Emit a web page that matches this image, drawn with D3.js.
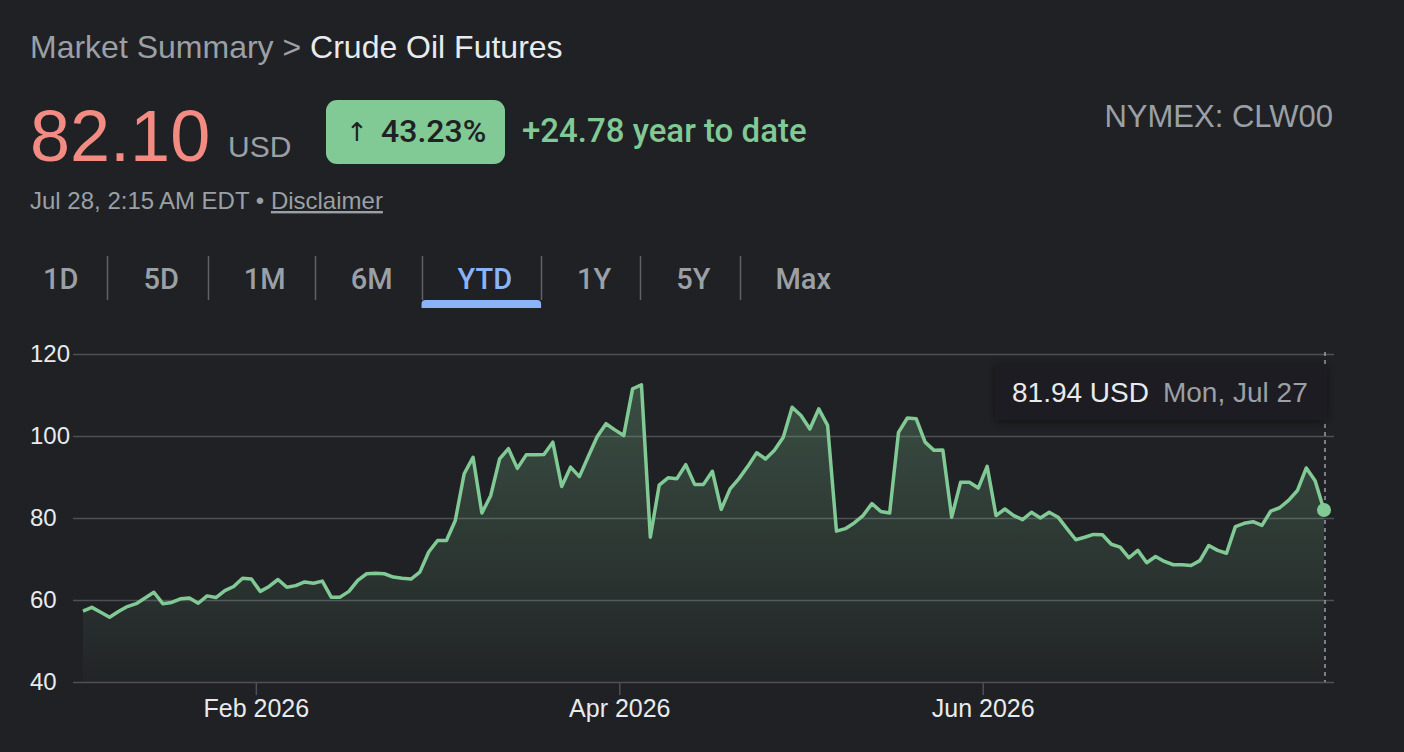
<!DOCTYPE html>
<html>
<head>
<meta charset="utf-8">
<script src="https://cdn.jsdelivr.net/npm/d3@7"></script>
<style>
  body { margin: 0; background: #202124; }
  svg { display: block; font-family: "Liberation Sans", Arial, Helvetica, sans-serif; }
  .med { font-family: Roboto, "Liberation Sans", sans-serif; font-weight: 500; }
</style>
</head>
<body>
<svg id="chart" width="1404" height="752"></svg>
<script>
// daily settle prices, Jan 2 -> Jul 27 (trading days only)
var prices = [
  57.3, 58.2, 57.0, 55.8, 57.2, 58.4, 59.1, 60.5, 61.9, 59.1,
  59.4, 60.3, 60.5, 59.2, 61.0, 60.6, 62.3, 63.3, 65.3, 65.1,
  62.1, 63.3, 65.0, 63.1, 63.5, 64.4, 64.1, 64.6, 60.7, 60.7,
  62.1, 64.8, 66.4, 66.5, 66.4, 65.6, 65.3, 65.1, 66.8, 71.7,
  74.5, 74.5, 79.4, 90.8, 94.8, 81.2, 85.5, 94.4, 96.9, 92.1,
  95.4, 95.4, 95.5, 98.5, 87.7, 92.4, 90.1, 95.0, 99.8, 103.0,
  101.5, 100.1, 111.5, 112.5, 75.3, 88.0, 89.8, 89.6, 93.0, 88.2,
  88.2, 91.4, 82.1, 87.1, 89.6, 92.6, 95.9, 94.4, 96.5, 99.7,
  107.0, 105.0, 101.7, 106.6, 102.6, 76.8, 77.4, 78.8, 80.6, 83.5,
  81.6, 81.2, 100.9, 104.4, 104.2, 98.5, 96.5, 96.6, 80.2, 88.7,
  88.7, 87.3, 92.6, 80.6, 82.2, 80.6, 79.6, 81.4, 80.0, 81.4,
  80.2, 77.4, 74.7, 75.3, 76.0, 75.9, 73.6, 72.9, 70.3, 72.1,
  69.1, 70.6, 69.4, 68.6, 68.6, 68.4, 69.6, 73.3, 72.1, 71.4,
  77.9, 78.7, 79.1, 78.2, 81.7, 82.5, 84.3, 86.7, 92.2, 89.1,
  81.94
];
var startDate = "2026-01-02";
var holidays = ["2026-01-19", "2026-02-16", "2026-04-03", "2026-05-25", "2026-06-19", "2026-07-03"];

var yTicks = [40, 60, 80, 100, 120];
var tickMonths = [1, 3, 5];
var tickLabels = ["Feb 2026", "Apr 2026", "Jun 2026"];

var tabs = ["1D", "5D", "1M", "6M", "YTD", "1Y", "5Y", "Max"];
var activeTab = "YTD";

var lastPrice = "82.10";
var pctChange = "43.23%";
var ytdChange = "+24.78 year to date";
var tipPrice = "81.94 USD";
var tipDate = "Mon, Jul 27";

// trading calendar
var fmt = d3.timeFormat("%Y-%m-%d");
var dates = [];
var d = d3.timeParse("%Y-%m-%d")(startDate);
while (dates.length < prices.length) {
  var wd = d.getDay();
  if (wd !== 0 && wd !== 6 && holidays.indexOf(fmt(d)) < 0) dates.push(new Date(d));
  d = d3.timeDay.offset(d, 1);
}
var data = prices.map(function(p, i) { return {i: i, date: dates[i], price: p}; });

var svg = d3.select("#chart");

// ---- header ----
var title = svg.append("text").attr("x", 30).attr("y", 58).style("font-size", "32px");
title.append("tspan").attr("fill", "#9aa0a6").text("Market Summary > ");
title.append("tspan").attr("fill", "#e8eaed").text("Crude Oil Futures");

svg.append("text").attr("x", 30).attr("y", 161)
  .attr("fill", "#f28b82").style("font-size", "72px").text(lastPrice);
svg.append("text").attr("x", 228).attr("y", 157)
  .attr("fill", "#9aa0a6").style("font-size", "30px").text("USD");

svg.append("rect").attr("x", 326).attr("y", 100).attr("width", 179).attr("height", 64)
  .attr("rx", 11).attr("fill", "#81c995");
svg.append("text").attr("x", 346).attr("y", 141)
  .attr("fill", "#202124").style("font-size", "26px").style("font-family", "DejaVu Sans")
  .text("\u2191");
svg.append("text").attr("class", "med").attr("x", 381).attr("y", 142)
  .attr("fill", "#202124").style("font-size", "32px").text(pctChange);
svg.append("text").attr("class", "med").attr("x", 522).attr("y", 142)
  .attr("fill", "#81c995").style("font-size", "33px")
  .text(ytdChange);

svg.append("text").attr("x", 1333).attr("y", 127).attr("text-anchor", "end")
  .attr("fill", "#9aa0a6").style("font-size", "31px").text("NYMEX: CLW00");

var sub = svg.append("text").attr("x", 30).attr("y", 209)
  .attr("fill", "#9aa0a6").style("font-size", "24px");
sub.append("tspan").text("Jul 28, 2:15\u2009AM EDT \u2022 ");
sub.append("tspan").attr("text-decoration", "underline").text("Disclaimer");

// ---- range tabs ----
var padL = 36, padR = 29, tabLeft = 7;
tabs.forEach(function(t, i) {
  var txt = svg.append("text").attr("class", "med").attr("x", tabLeft + padL).attr("y", 289)
    .attr("fill", t === activeTab ? "#8ab4f8" : "#9aa0a6")
    .style("font-size", "29px").text(t);
  var w = txt.node().getComputedTextLength();
  var tabRight = tabLeft + padL + w + padR;
  if (t === activeTab) {
    svg.append("path")
      .attr("d", "M" + tabLeft + ",308 v-4 a4,4 0 0 1 4,-4 h" + (tabRight - tabLeft - 8) + " a4,4 0 0 1 4,4 v4 z")
      .attr("fill", "#8ab4f8");
  }
  if (i < tabs.length - 1) {
    var sx = Math.round(tabRight) + 0.5;
    svg.append("line").attr("x1", sx).attr("x2", sx).attr("y1", 256).attr("y2", 300)
      .attr("stroke", "#5f6368").attr("stroke-width", 1.5);
  }
  tabLeft = tabRight;
});

// ---- chart ----
var x = d3.scaleLinear().domain([0, prices.length - 1]).range([83, 1324]);
var y = d3.scaleLinear().domain([40, 120]).range([682, 354]);

var yAxis = d3.axisLeft(y).tickValues(yTicks).tickSize(-1261).tickPadding(0);
var gy = svg.append("g").attr("transform", "translate(73,0)").call(yAxis);
gy.select(".domain").remove();
gy.selectAll(".tick line").attr("stroke", "#4d5055").attr("stroke-width", 1.5);
gy.selectAll(".tick text").attr("x", -43).attr("text-anchor", "start")
  .attr("fill", "#e8eaed").style("font-size", "24px").style("font-family", "inherit");

// month boundaries in trading-day index space
var tickIdx = tickMonths.map(function(m) {
  var k = data.findIndex(function(p) { return p.date.getMonth() === m; });
  return k - 0.5;
});
var xAxis = d3.axisBottom(x).tickValues(tickIdx)
  .tickFormat(function(v, i) { return tickLabels[i]; })
  .tickSize(13).tickPadding(0);
var gx = svg.append("g").attr("transform", "translate(0,682)").call(xAxis);
gx.select(".domain").remove();
gx.selectAll(".tick line").attr("stroke", "#4d5055").attr("stroke-width", 1.5);
gx.selectAll(".tick text").attr("y", 35).attr("dy", 0).attr("fill", "#e8eaed")
  .style("font-size", "25px").style("font-family", "inherit");

var defs = svg.append("defs");
var grad = defs.append("linearGradient").attr("id", "fillGrad")
  .attr("gradientUnits", "userSpaceOnUse")
  .attr("x1", 0).attr("x2", 0).attr("y1", y(115)).attr("y2", y(40));
grad.append("stop").attr("offset", 0).attr("stop-color", "#81c995").attr("stop-opacity", 0.28);
grad.append("stop").attr("offset", 1).attr("stop-color", "#81c995").attr("stop-opacity", 0.02);

svg.append("path").datum(data)
  .attr("fill", "url(#fillGrad)")
  .attr("d", d3.area().x(function(p) { return x(p.i); }).y0(y(40)).y1(function(p) { return y(p.price); }));

svg.append("path").datum(data)
  .attr("fill", "none").attr("stroke", "#81c995").attr("stroke-width", 3.5)
  .attr("stroke-linejoin", "round")
  .attr("d", d3.line().x(function(p) { return x(p.i); }).y(function(p) { return y(p.price); }));

// hover marker
var last = data[data.length - 1];
svg.append("line").attr("x1", x(last.i) + 1).attr("x2", x(last.i) + 1)
  .attr("y1", 352).attr("y2", 682)
  .attr("stroke", "#9aa0a6").attr("stroke-width", 1.5).attr("stroke-dasharray", "4,4");
svg.append("circle").attr("cx", x(last.i)).attr("cy", y(last.price)).attr("r", 7)
  .attr("fill", "#81c995");

// tooltip
var shadow = defs.append("filter").attr("id", "shadow").attr("x", -0.2).attr("y", -0.4)
  .attr("width", 1.4).attr("height", 1.8);
shadow.append("feDropShadow").attr("dx", 0).attr("dy", 2).attr("stdDeviation", 5)
  .attr("flood-color", "#000").attr("flood-opacity", 0.45);
svg.append("rect").attr("x", 995).attr("y", 364).attr("width", 332).attr("height", 56)
  .attr("rx", 2).attr("fill", "#1e1f22").attr("filter", "url(#shadow)");
var tip = svg.append("text").attr("x", 1012).attr("y", 402).style("font-size", "28px");
tip.append("tspan").attr("fill", "#e8eaed").text(tipPrice);
tip.append("tspan").attr("fill", "#9aa0a6").attr("dx", 14).text(tipDate);
</script>
</body>
</html>
